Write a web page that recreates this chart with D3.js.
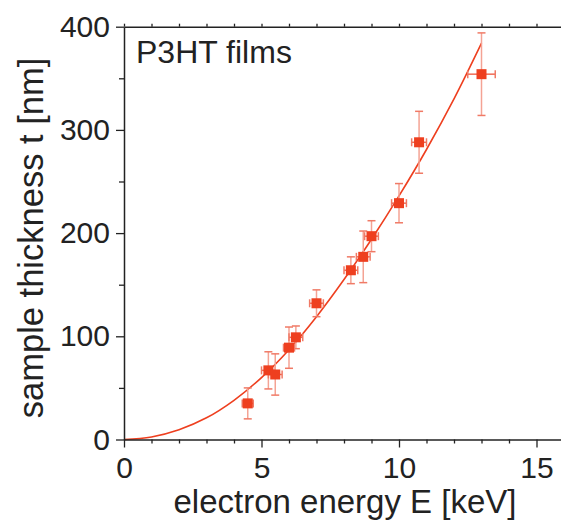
<!DOCTYPE html>
<html>
<head>
<meta charset="utf-8">
<script src="https://cdn.jsdelivr.net/npm/d3@7"></script>
<style>
  html, body { margin: 0; padding: 0; background: #fff; }
  svg { display: block; font-family: "Liberation Sans", Arial, Helvetica, sans-serif; }
</style>
</head>
<body>
<svg id="chart" width="561" height="522"></svg>
<script>
// Measured film thickness versus electron energy
const energy    = [4.5, 5.25, 5.5, 6.0, 6.25, 7.0, 8.25, 8.7, 9.0, 10.0, 10.73, 13.0];
const thickness = [35, 67, 63, 89, 99, 132, 164, 177, 197, 229, 288, 354];
const energyErr = [0.2, 0.25, 0.25, 0.2, 0.25, 0.25, 0.25, 0.25, 0.25, 0.27, 0.27, 0.5];
const thickErr  = [15, 18, 20, 20, 11, 13, 13, 25, 15, 19, 30, 40];

// Fitted range curve, sampled at whole keV steps
const fitEnergy    = [0, 1, 2, 3, 4, 5, 6, 7, 8, 9, 10, 11, 12, 13];
const fitThickness = [0, 2.5, 9.5, 21, 38, 60, 87, 119, 155, 194, 236, 281, 330, 384];

const xTicks = [0, 5, 10, 15];
const yTicks = [0, 100, 200, 300, 400];

const svg = d3.select("#chart");
const x = d3.scaleLinear().domain([0, 16]).range([124, 564]);
const y = d3.scaleLinear().domain([0, 400]).range([439.5, 26.7]);

const red = "#ee3f1f";
const axisColor = "#222";
const tickFont = 30;

// Fit curve
svg.append("path")
  .datum(fitEnergy.map((e, i) => [e, fitThickness[i]]))
  .attr("fill", "none")
  .attr("stroke", red)
  .attr("stroke-width", 1.6)
  .attr("d", d3.line().x(d => x(d[0])).y(d => y(d[1])).curve(d3.curveCatmullRom));

// Error bars
const pts = energy.map((e, i) => ({e, t: thickness[i], de: energyErr[i], dt: thickErr[i]}));
const eb = svg.append("g");
const cap = 4;
pts.forEach(p => {
  const cx = x(p.e), cy = y(p.t);
  const g = eb.append("g").attr("stroke-width", 1.5);
  // vertical
  g.append("line").attr("x1", cx).attr("x2", cx).attr("y1", y(p.t - p.dt)).attr("y2", y(p.t + p.dt))
    .attr("stroke", "#f4a394");
  g.append("line").attr("x1", cx - cap).attr("x2", cx + cap).attr("y1", y(p.t + p.dt)).attr("y2", y(p.t + p.dt))
    .attr("stroke", "#f07a66");
  g.append("line").attr("x1", cx - cap).attr("x2", cx + cap).attr("y1", y(p.t - p.dt)).attr("y2", y(p.t - p.dt))
    .attr("stroke", "#f07a66");
  // horizontal
  g.append("line").attr("x1", x(p.e - p.de)).attr("x2", x(p.e + p.de)).attr("y1", cy).attr("y2", cy)
    .attr("stroke", "#f06a54");
  g.append("line").attr("x1", x(p.e - p.de)).attr("x2", x(p.e - p.de)).attr("y1", cy - cap).attr("y2", cy + cap)
    .attr("stroke", "#f07a66");
  g.append("line").attr("x1", x(p.e + p.de)).attr("x2", x(p.e + p.de)).attr("y1", cy - cap).attr("y2", cy + cap)
    .attr("stroke", "#f07a66");
});

// Square markers
const ms = 10;
svg.append("g").selectAll("rect").data(pts).join("rect")
  .attr("x", d => x(d.e) - ms / 2)
  .attr("y", d => y(d.t) - ms / 2)
  .attr("width", ms).attr("height", ms)
  .attr("fill", red);

// Axes
function styleAxis(g) {
  g.select(".domain").attr("stroke", axisColor).attr("stroke-width", 1.5);
  g.selectAll(".tick line").attr("stroke", axisColor).attr("stroke-width", 1.3);
  g.selectAll("text").attr("fill", "#222").attr("font-size", tickFont);
}

const xMinor = d3.range(0, 17, 1).filter(v => v % 5 !== 0);
const yMinor = d3.range(50, 400, 100);

// bottom
const gx = svg.append("g").attr("transform", `translate(0,${y(0)})`)
  .call(d3.axisBottom(x).tickValues(xTicks).tickSize(8).tickSizeOuter(0).tickPadding(9));
styleAxis(gx);
svg.append("g").attr("transform", `translate(0,${y(0)})`)
  .call(d3.axisBottom(x).tickValues(xMinor).tickSize(4).tickSizeOuter(0).tickFormat(""))
  .call(g => { g.select(".domain").remove(); g.selectAll("line").attr("stroke", axisColor).attr("stroke-width", 1.3); });

// top
svg.append("g").attr("transform", `translate(0,${y(400)})`)
  .call(d3.axisTop(x).tickValues(d3.range(0, 17, 1)).tickSize(3).tickSizeOuter(0).tickFormat(""))
  .call(styleAxis);

// left
const gy = svg.append("g").attr("transform", `translate(${x(0)},0)`)
  .call(d3.axisLeft(y).tickValues(yTicks).tickSize(8).tickSizeOuter(0).tickPadding(6));
styleAxis(gy);
svg.append("g").attr("transform", `translate(${x(0)},0)`)
  .call(d3.axisLeft(y).tickValues(yMinor).tickSize(5).tickSizeOuter(0).tickFormat(""))
  .call(g => { g.select(".domain").remove(); g.selectAll("line").attr("stroke", axisColor).attr("stroke-width", 1.3); });

// Axis titles
svg.append("text")
  .attr("x", 345).attr("y", 513)
  .attr("text-anchor", "middle")
  .attr("font-size", 33).attr("fill", "#222")
  .text("electron energy E [keV]");

svg.append("text")
  .attr("transform", `translate(43,238) rotate(-90)`)
  .attr("text-anchor", "middle")
  .attr("font-size", 34.5).attr("fill", "#222")
  .text("sample thickness t [nm]");

// Panel label
svg.append("text")
  .attr("x", 136).attr("y", 63)
  .attr("font-size", 32).attr("fill", "#222")
  .text("P3HT films");
</script>
</body>
</html>
